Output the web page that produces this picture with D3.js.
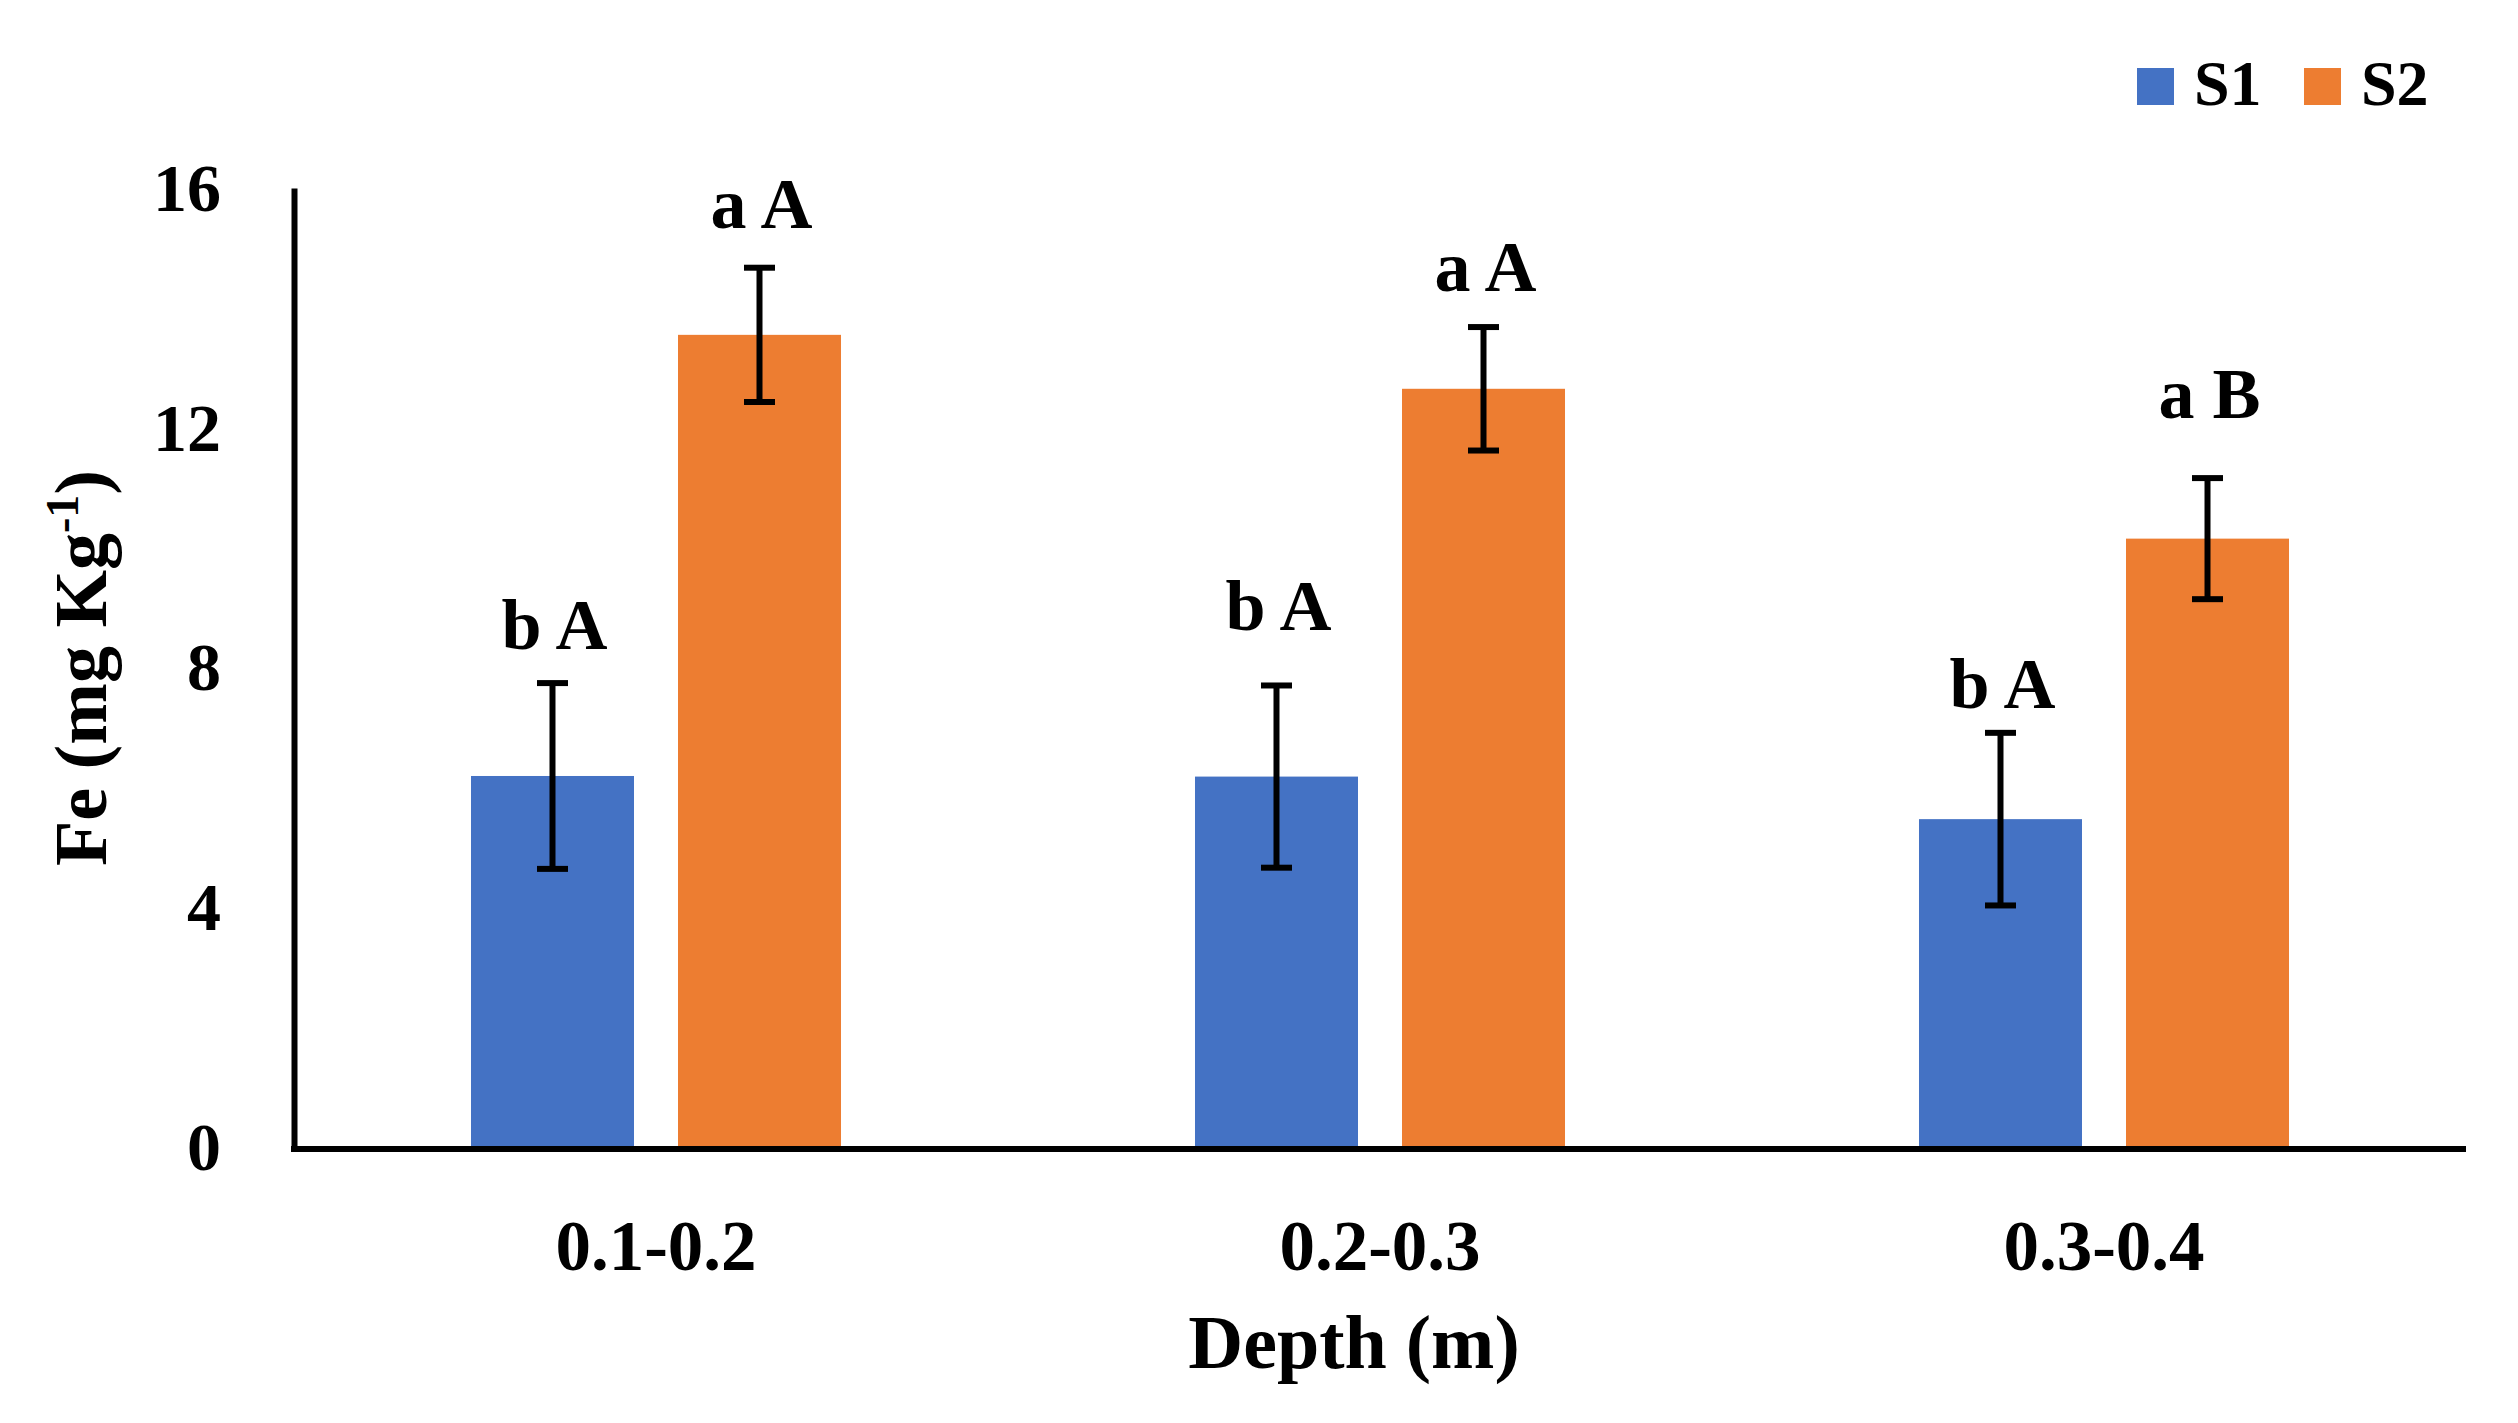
<!DOCTYPE html>
<html>
<head>
<meta charset="utf-8">
<script src="https://cdn.jsdelivr.net/npm/d3@7"></script>
<style>
  html, body { margin: 0; padding: 0; background: #ffffff; }
  svg { display: block; }
  text { font-family: "Liberation Serif", "DejaVu Serif", serif; font-weight: bold; fill: #000; }
</style>
</head>
<body>
<svg id="chart" width="2518" height="1423"></svg>
<script>
// ---- data ----
const categories = ["0.1-0.2", "0.2-0.3", "0.3-0.4"];
const seriesNames = ["S1", "S2"];
const s1Values = [6.19, 6.18, 5.47];
const s2Values = [13.55, 12.65, 10.15];
const s1Errors = [1.55, 1.52, 1.44];
const s2Errors = [1.12, 1.03, 1.01];
const s1Letters = ["b A", "b A", "b A"];
const s2Letters = ["a A", "a A", "a B"];
const s1LetterHeights = [8.31, 8.63, 7.33];
const s2LetterHeights = [15.34, 14.28, 12.17];
const yTicks = [0, 4, 8, 12, 16];
const colors = ["#4472C4", "#ED7D31"];

// ---- layout ----
const plotLeft = 294, plotRight = 2466, plotTop = 188, plotBottom = 1147;
const svg = d3.select("#chart");

const x0 = d3.scaleBand().domain(categories).range([plotLeft, plotRight]).paddingInner(0).paddingOuter(0);
const x1 = d3.scaleBand().domain(seriesNames).range([0, x0.bandwidth()]).paddingInner(0.2126).paddingOuter(0.855);
const y = d3.scaleLinear().domain([0, 16]).range([plotBottom, plotTop]);
const color = d3.scaleOrdinal().domain(seriesNames).range(colors);

const rows = categories.map((c, i) => ({
  cat: c,
  items: [
    { s: "S1", v: s1Values[i], e: s1Errors[i], lab: s1Letters[i], lh: s1LetterHeights[i] },
    { s: "S2", v: s2Values[i], e: s2Errors[i], lab: s2Letters[i], lh: s2LetterHeights[i] }
  ]
}));

const groups = svg.selectAll("g.grp").data(rows).join("g")
  .attr("class", "grp")
  .attr("transform", d => `translate(${x0(d.cat)},0)`);

// bars
groups.selectAll("rect").data(d => d.items).join("rect")
  .attr("x", d => x1(d.s))
  .attr("width", x1.bandwidth())
  .attr("y", d => y(d.v))
  .attr("height", d => y(0) - y(d.v))
  .attr("fill", d => color(d.s));

// error bars
const capW = 31;
const eb = groups.selectAll("g.err").data(d => d.items).join("g").attr("class", "err")
  .attr("stroke", "#000").attr("stroke-width", 6).attr("fill", "none");
eb.append("line")
  .attr("x1", d => x1(d.s) + x1.bandwidth() / 2).attr("x2", d => x1(d.s) + x1.bandwidth() / 2)
  .attr("y1", d => y(d.v + d.e)).attr("y2", d => y(d.v - d.e));
eb.append("line")
  .attr("x1", d => x1(d.s) + x1.bandwidth() / 2 - capW / 2).attr("x2", d => x1(d.s) + x1.bandwidth() / 2 + capW / 2)
  .attr("y1", d => y(d.v + d.e)).attr("y2", d => y(d.v + d.e));
eb.append("line")
  .attr("x1", d => x1(d.s) + x1.bandwidth() / 2 - capW / 2).attr("x2", d => x1(d.s) + x1.bandwidth() / 2 + capW / 2)
  .attr("y1", d => y(d.v - d.e)).attr("y2", d => y(d.v - d.e));

// letters
groups.selectAll("text.lab").data(d => d.items).join("text")
  .attr("class", "lab")
  .attr("x", d => x1(d.s) + x1.bandwidth() / 2 + 2)
  .attr("y", d => y(d.lh))
  .attr("text-anchor", "middle")
  .attr("font-size", 72)
  .text(d => d.lab);

// y axis
const yAxis = svg.append("g").attr("transform", `translate(${plotLeft},0)`)
  .call(d3.axisLeft(y).tickValues(yTicks).tickSize(0).tickSizeOuter(0).tickPadding(73).tickFormat(d3.format("d")));
yAxis.select(".domain").attr("stroke", "#000").attr("stroke-width", 6);
yAxis.selectAll(".tick text")
  .attr("font-family", null).attr("font-size", 68).attr("dy", "0.33em");

// x axis
const xAxis = svg.append("g").attr("transform", `translate(0,${plotBottom + 2})`)
  .call(d3.axisBottom(x0).tickSize(0).tickSizeOuter(0));
xAxis.select(".domain").attr("stroke", "#000").attr("stroke-width", 6)
  .attr("d", `M${plotLeft - 3},0H${plotRight}`);
xAxis.selectAll(".tick text")
  .attr("font-family", null).attr("font-size", 71).attr("dy", null).attr("y", 121);

// axis titles
svg.append("text")
  .attr("x", 1354).attr("y", 1368)
  .attr("text-anchor", "middle").attr("font-size", 76)
  .text("Depth (m)");

const yt = svg.append("text")
  .attr("transform", "translate(106,668) rotate(-90)")
  .attr("text-anchor", "middle").attr("font-size", 74);
yt.append("tspan").text("Fe (mg Kg");
yt.append("tspan").attr("font-size", 46).attr("dy", -28).text("-1");
yt.append("tspan").attr("dy", 28).text(")");

// legend
const legend = svg.append("g");
const legendX = [2137, 2304];
seriesNames.forEach((s, i) => {
  legend.append("rect").attr("x", legendX[i]).attr("y", 68).attr("width", 37).attr("height", 37).attr("fill", color(s));
  legend.append("text").attr("x", legendX[i] + 57).attr("y", 105).attr("font-size", 64).text(s);
});
</script>
</body>
</html>
